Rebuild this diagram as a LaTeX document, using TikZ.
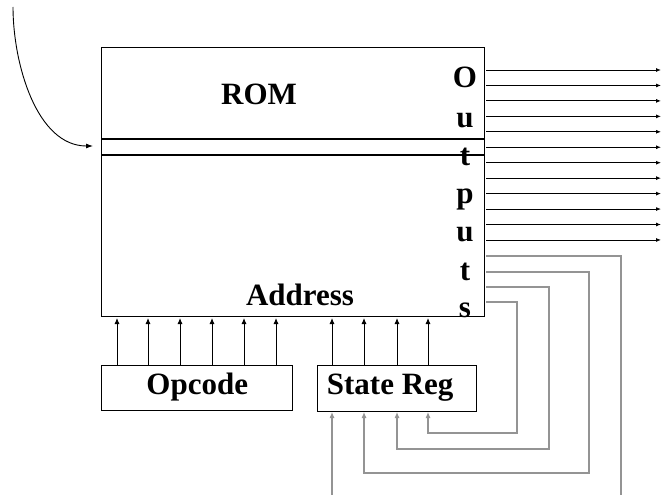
\documentclass[tikz,border=0pt]{standalone}
\usepackage{fontspec}
\setmainfont{Liberation Serif}
\usetikzlibrary{arrows.meta,calc}
\begin{document}
\begin{tikzpicture}[x=1pt,y=-1pt,
  lbl/.style={font=\fontsize{31}{36}\selectfont\bfseries, inner sep=0pt, anchor=base},
  boxline/.style={line width=1.4pt, draw=black},
  blk/.style={line width=0.9pt, -{Latex[length=6pt,width=5pt]}},
  gry/.style={line width=1.1pt, draw=black!42, -{Latex[length=6pt,width=5pt]}, color=black!42},
  outl/.style={line width=0.9pt, -{Latex[length=5pt,width=4pt]}}]
\useasboundingbox (0,0) rectangle (661,495);
% ROM box
\node[boxline, draw, rectangle, minimum width=383pt, minimum height=269pt, inner sep=0pt, anchor=north west] (rom) at (101,47) {};
\coordinate (l1a) at (101,139); \coordinate (l1b) at (484,139);
\coordinate (l2a) at (101,155); \coordinate (l2b) at (484,155);
\draw[line width=1.2pt] (l1a) -- (l1b);
\draw[line width=1.2pt] (l2a) -- (l2b);
\node[lbl] (romt) at (259,104) {ROM};
\node[lbl] (addr) at (300,305) {Address};
\node[lbl] (o1) at (465,88) {O};
\node[lbl] (o2) at (465,127) {u};
\node[lbl] (o3) at (465,165) {t};
\node[lbl] (o4) at (465,203) {p};
\node[lbl] (o5) at (465,241) {u};
\node[lbl] (o6) at (465,280) {t};
\node[lbl] (o7) at (465,317) {s};
% Opcode and State Reg
\node[boxline, draw, rectangle, minimum width=191pt, minimum height=45pt, inner sep=0pt, anchor=north west] (opc) at (101,365) {};
\node[lbl, anchor=center] (opct) at ($(opc.center)+(0,-1)$) {Opcode};
\node[boxline, draw, rectangle, minimum width=159pt, minimum height=46pt, inner sep=0pt, anchor=north west] (sr) at (317,365) {};
\node[lbl, anchor=center] (srt) at ($(sr.center)+(-7,-1)$) {State Reg};
% opcode arrows
\foreach \x in {117,148,180,212,244,276}{
  \draw[blk] (\x,365) -- (\x,318);
}
\foreach \x in {332,364,397,428}{
  \draw[blk] (\x,365) -- (\x,318);
}
% output lines
\foreach \i in {0,...,11}{
  \draw[outl] (486,{70+15.45*\i}) -- (661,{70+15.45*\i});
}
% feedback
\coordinate (fa) at (486,256); \coordinate (fb) at (621,256); \coordinate (fc) at (621,495);
\draw[line width=1.1pt, black!42] (fa) -- (fb) -- (fc);
\draw[gry] (332,495) -- (332,412);
\draw[gry] (486,272) -- (589,272) -- (589,473) -- (364,473) -- (364,412);
\draw[gry] (486,287) -- (549,287) -- (549,449) -- (397,449) -- (397,412);
\draw[gry] (486,302) -- (517,302) -- (517,433) -- (428,433) -- (428,412);
% curved arrow
\coordinate (cs) at (13,7);
\coordinate (ce) at (93,146);
\draw[line width=0.9pt, -{Latex[length=7pt,width=5pt]}] (cs) to[out=-90,in=180, looseness=0.9] (ce);
\end{tikzpicture}
\end{document}
